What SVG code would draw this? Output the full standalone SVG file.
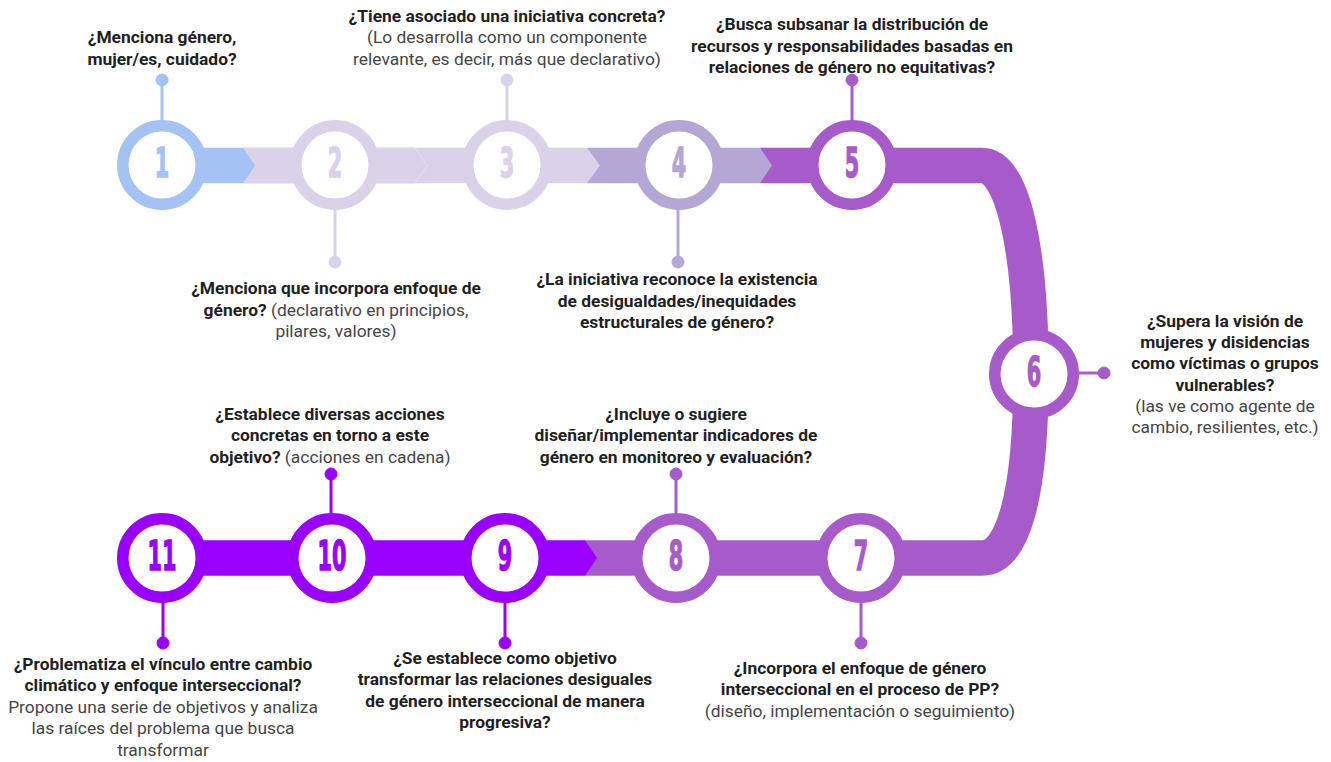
<svg xmlns="http://www.w3.org/2000/svg" width="1331" height="762" viewBox="0 0 1331 762">
<style>
.q{font-family:Roboto,"Liberation Sans",sans-serif;font-size:17.4px;font-weight:700;fill:#1f1f1f;text-anchor:middle}
.r{font-weight:400;fill:#454545}
.num{font-family:"DejaVu Sans",sans-serif;font-weight:700;font-size:40px;text-anchor:middle;stroke-width:1.4}
.ring{fill:#fff;stroke-width:11.5}
.ld{stroke-width:3;fill:none}
.c1{fill:#A4C2F4;stroke:#A4C2F4}
.c2{fill:#D9D2E9;stroke:#D9D2E9}
.c4{fill:#B4A7D6;stroke:#B4A7D6}
.c5{fill:#A75BCB;stroke:#A75BCB}
.c9{fill:#9900FF;stroke:#9900FF}
</style>
<rect width="1331" height="762" fill="#fff"/>
<g id="band">
<path d="M760 165.5 H982 C1013 165.5 1031 250 1031 374 C1031 495 1013 558 982 558 H585" fill="none" stroke="#A75BCB" stroke-width="35.5"/>
<polygon points="587,147.75 760,147.75 772,165.5 760,183.25 587,183.25" fill="#B4A7D6"/>
<polygon points="415,147.75 587,147.75 600,165.5 587,183.25 415,183.25" fill="#D9D2E9"/>
<polygon points="243,147.75 415,147.75 427,165.5 415,183.25 243,183.25" fill="#D9D2E9" stroke="#E6E1F0" stroke-width="1"/>
<polygon points="162,147.75 243,147.75 255,165.5 243,183.25 162,183.25" fill="#A4C2F4"/>
<polygon points="163,540.25 585,540.25 597,558 585,575.75 163,575.75" fill="#9900FF"/>
</g>
<g id="connectors">
<line class="ld c1" x1="162" y1="80" x2="162" y2="122"/><circle class="c1" cx="162" cy="80" r="6"/>
<line class="ld c2" x1="335" y1="208" x2="335" y2="262"/><circle class="c2" cx="335" cy="262" r="6"/>
<line class="ld c2" x1="507" y1="80" x2="507" y2="122"/><circle class="c2" cx="507" cy="80" r="6"/>
<line class="ld c4" x1="678" y1="208" x2="678" y2="262"/><circle class="c4" cx="678" cy="262" r="6"/>
<line class="ld c5" x1="852" y1="80" x2="852" y2="122"/><circle class="c5" cx="852" cy="80" r="6"/>
<line class="ld c5" x1="1075" y1="373" x2="1104" y2="373"/><circle class="c5" cx="1104" cy="373" r="6"/>
<line class="ld c5" x1="861" y1="600" x2="861" y2="643"/><circle class="c5" cx="861" cy="643" r="6"/>
<line class="ld c5" x1="676" y1="474" x2="676" y2="516"/><circle class="c5" cx="676" cy="474" r="6"/>
<line class="ld c9" x1="505" y1="600" x2="505" y2="643"/><circle class="c9" cx="505" cy="643" r="6"/>
<line class="ld c9" x1="331" y1="474" x2="331" y2="516"/><circle class="c9" cx="331" cy="474" r="6"/>
<line class="ld c9" x1="163" y1="600" x2="163" y2="643"/><circle class="c9" cx="163" cy="643" r="6"/>
</g>
<g id="n1">
<circle class="ring" cx="162" cy="165" r="39.25" stroke="#A4C2F4"/>
<text class="num c1" transform="translate(162,177) scale(0.52,1)">1</text>
<text class="q"><tspan x="162" y="43">¿Menciona género,</tspan><tspan x="162" y="64.5">mujer/es, cuidado?</tspan></text>
</g>
<g id="n2">
<circle class="ring" cx="335" cy="165" r="39.25" stroke="#D9D2E9"/>
<text class="num c2" transform="translate(335,177) scale(0.52,1)">2</text>
<text class="q" x="336" y="294">¿Menciona que incorpora enfoque de</text>
<text class="q" x="336" y="315.5">género?<tspan class="r"> (declarativo en principios,</tspan></text>
<text class="q r" x="336" y="337">pilares, valores)</text>
</g>
<g id="n3">
<circle class="ring" cx="507" cy="165" r="39.25" stroke="#D9D2E9"/>
<text class="num c2" transform="translate(507,177) scale(0.52,1)">3</text>
<text class="q" x="507" y="22">¿Tiene asociado una iniciativa concreta?</text>
<text class="q r"><tspan x="507" y="43">(Lo desarrolla como un componente</tspan><tspan x="507" y="64.5">relevante, es decir, más que declarativo)</tspan></text>
</g>
<g id="n4">
<circle class="ring" cx="679" cy="165" r="39.25" stroke="#B4A7D6"/>
<text class="num c4" transform="translate(679,177) scale(0.52,1)">4</text>
<text class="q"><tspan x="677" y="285">¿La iniciativa reconoce la existencia</tspan><tspan x="677" y="306.5">de desigualdades/inequidades</tspan><tspan x="677" y="328">estructurales de género?</tspan></text>
</g>
<g id="n5">
<circle class="ring" cx="852" cy="165" r="39.25" stroke="#A75BCB"/>
<text class="num c5" transform="translate(852,177) scale(0.52,1)">5</text>
<text class="q"><tspan x="852" y="29.5">¿Busca subsanar la distribución de</tspan><tspan x="852" y="51.5">recursos y responsabilidades basadas en</tspan><tspan x="852" y="73">relaciones de género no equitativas?</tspan></text>
</g>
<g id="n6">
<circle class="ring" cx="1034" cy="374" r="39.25" stroke="#A75BCB"/>
<text class="num c5" transform="translate(1034,386) scale(0.52,1)">6</text>
<text class="q"><tspan x="1225" y="326.5">¿Supera la visión de</tspan><tspan x="1225" y="348">mujeres y disidencias</tspan><tspan x="1225" y="369">como víctimas o grupos</tspan><tspan x="1225" y="390.5">vulnerables?</tspan></text>
<text class="q r"><tspan x="1225" y="411.5">(las ve como agente de</tspan><tspan x="1225" y="433">cambio, resilientes, etc.)</tspan></text>
</g>
<g id="n7">
<circle class="ring" cx="861" cy="558" r="39.25" stroke="#A75BCB"/>
<text class="num c5" transform="translate(861,570) scale(0.52,1)">7</text>
<text class="q"><tspan x="860" y="673.5">¿Incorpora el enfoque de género</tspan><tspan x="860" y="695">interseccional en el proceso de PP?</tspan></text>
<text class="q r" x="860" y="717">(diseño, implementación o seguimiento)</text>
</g>
<g id="n8">
<circle class="ring" cx="676" cy="558" r="39.25" stroke="#A75BCB"/>
<text class="num c5" transform="translate(676,570) scale(0.52,1)">8</text>
<text class="q"><tspan x="676" y="419.5">¿Incluye o sugiere</tspan><tspan x="676" y="441">diseñar/implementar indicadores de</tspan><tspan x="676" y="462.5">género en monitoreo y evaluación?</tspan></text>
</g>
<g id="n9">
<circle class="ring" cx="505" cy="558" r="39.25" stroke="#9900FF"/>
<text class="num c9" transform="translate(505,570) scale(0.52,1)">9</text>
<text class="q"><tspan x="505" y="663.5">¿Se establece como objetivo</tspan><tspan x="505" y="685">transformar las relaciones desiguales</tspan><tspan x="505" y="706.5">de género interseccional de manera</tspan><tspan x="505" y="728">progresiva?</tspan></text>
</g>
<g id="n10">
<circle class="ring" cx="332" cy="558" r="39.25" stroke="#9900FF"/>
<text class="num c9" transform="translate(332,570) scale(0.52,1)">10</text>
<text class="q"><tspan x="330" y="419.5">¿Establece diversas acciones</tspan><tspan x="330" y="441">concretas en torno a este</tspan></text>
<text class="q" x="330" y="462.5">objetivo?<tspan class="r"> (acciones en cadena)</tspan></text>
</g>
<g id="n11">
<circle class="ring" cx="162" cy="558" r="39.25" stroke="#9900FF"/>
<text class="num c9" transform="translate(162,570) scale(0.52,1)">11</text>
<text class="q"><tspan x="163" y="669.5">¿Problematiza el vínculo entre cambio</tspan><tspan x="163" y="691">climático y enfoque interseccional?</tspan></text>
<text class="q r"><tspan x="163" y="712.5">Propone una serie de objetivos y analiza</tspan><tspan x="163" y="734">las raíces del problema que busca</tspan><tspan x="163" y="755.5">transformar</tspan></text>
</g>
</svg>
